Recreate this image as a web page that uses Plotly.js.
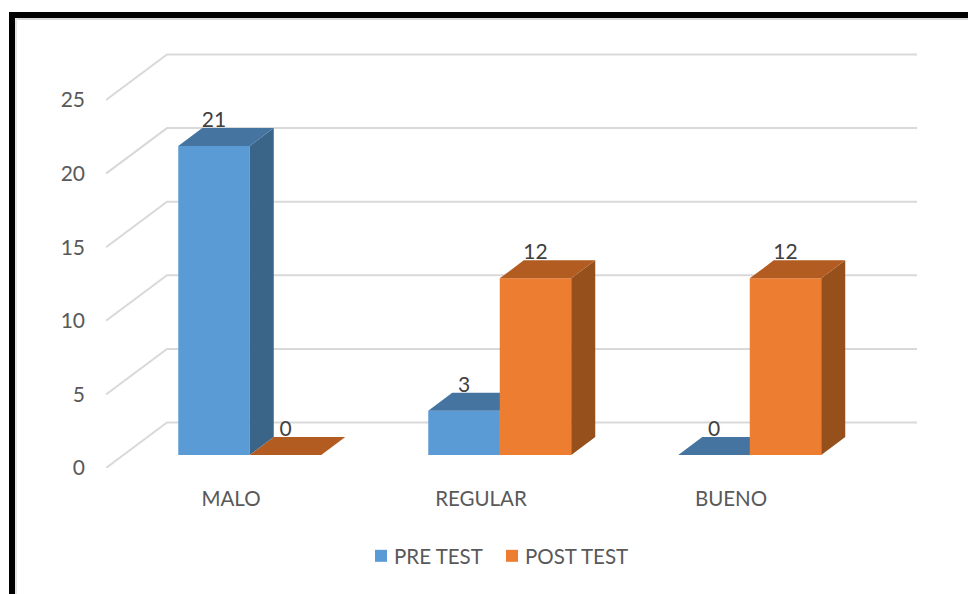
<!DOCTYPE html>
<html>
<head>
<meta charset="utf-8">
<script src="https://cdn.plot.ly/plotly-3.0.1.min.js"></script>
<style>html,body{margin:0;padding:0;background:#fff;overflow:hidden}#chart{width:968px;height:594px}</style>
</head>
<body>
<div id="chart"></div>
<script>
const categories = ["MALO", "REGULAR", "BUENO"];
const preTest = [21, 3, 0];
const postTest = [0, 12, 12];
const yTicks = [0, 5, 10, 15, 20, 25];
const seriesNames = ["PRE TEST", "POST TEST"];

const W = 968, H = 594;
const L = 106, R = 930, T = 40, B = 468;
const pxX = 250, pxY = 14.72;           // px per category, px per value
const dx = v => v / pxX, dy = v => v / pxY;
const wallX = dx(61), wallY = dy(45.5); // full depth of the floor
const wallEnd = dx(917 - L);            // right end of the back wall
const frontX = dx(19), frontY = dy(13); // bar front plane
const depthX = dx(24), depthY = dy(18); // bar depth
const barW = dx(71.5);
const xRange = [0, (R - L) / pxX], yRange = [0, (B - T) / pxY];
const px = x => (x - L) / (R - L), py = y => (B - y) / (B - T);

const FONT = "Lato, 'Open Sans', sans-serif", TXT = "#595959";
const SIZE = 20.5;

const gx = [], gy = [];
yTicks.forEach(v => {
  gx.push(0, wallX, wallEnd, null);
  gy.push(v, v + wallY, v + wallY, null);
});
const traces = [{
  x: gx, y: gy, type: "scatter", mode: "lines", cliponaxis: false,
  line: {color: "#D9D9D9", width: 2}, showlegend: false, hoverinfo: "skip"
}];

function series(vals, name, sign, front, top, side, xa, ya, leg) {
  const cx = categories.map((c, i) => i + 0.5 + frontX - 0.001 + sign * barW / 2);
  const sx = [], sy = [], tx = [], ty = [];
  vals.forEach((v, i) => {
    const l = cx[i] - barW / 2, r = cx[i] + barW / 2, b = frontY, t = frontY + v;
    sx.push(r, r + depthX, r + depthX, r, r, null);
    sy.push(b, b + depthY, t + depthY, t, b, null);
    tx.push(l, l + depthX, r + depthX, r, l, null);
    ty.push(t, t + depthY, t + depthY, t, t, null);
  });
  traces.push({
    x: cx, y: vals, base: vals.map(() => frontY), width: barW, type: "bar", name: name, legend: leg,
    showlegend: true, marker: {color: front, line: {width: 0}}, xaxis: xa, yaxis: ya, hoverinfo: "skip"
  });
  traces.push({x: sx, y: sy, type: "scatter", mode: "lines", fill: "toself", fillcolor: side,
    line: {width: 0, color: side}, showlegend: false, xaxis: xa, yaxis: ya, hoverinfo: "skip"});
  traces.push({x: tx, y: ty, type: "scatter", mode: "lines", fill: "toself", fillcolor: top,
    line: {width: 0, color: top}, showlegend: false, xaxis: xa, yaxis: ya, hoverinfo: "skip"});
  traces.push({
    x: cx, y: vals.map(v => v + frontY + dy(24.5)), text: vals.map(String), type: "scatter", mode: "text",
    textposition: "middle center", textfont: {family: FONT, size: 21, color: "#404040"},
    cliponaxis: false, showlegend: false, xaxis: xa, yaxis: ya, hoverinfo: "skip"
  });
}
series(preTest, seriesNames[0], -1, "#5B9BD5", "#44749F", "#3A6488", "x2", "y2", "legend");
series(postTest, seriesNames[1], 1, "#ED7D31", "#B35C21", "#95501C", "x3", "y3", "legend2");

const rect = (x0, y0, x1, y1, c) => ({type: "rect", xref: "paper", yref: "paper",
  x0: px(x0), x1: px(x1), y0: py(y0), y1: py(y1), fillcolor: c, line: {width: 0}, layer: "above"});

const hiddenX = {range: xRange, overlaying: "x", visible: false, fixedrange: true};
const hiddenY = {range: yRange, overlaying: "y", visible: false, fixedrange: true};
const legendAt = x => ({orientation: "h", xref: "paper", yref: "paper", x: px(x), y: py(536),
  xanchor: "left", yanchor: "top", font: {family: FONT, size: SIZE, color: TXT}, bgcolor: "rgba(0,0,0,0)"});

const layout = {
  width: W, height: H, autosize: false, showlegend: true,
  margin: {l: L, r: W - R, t: T, b: H - B, pad: 0},
  paper_bgcolor: "#fff", plot_bgcolor: "rgba(0,0,0,0)",
  barmode: "overlay",
  font: {family: FONT, size: SIZE, color: TXT},
  xaxis: {range: xRange, fixedrange: true, showgrid: false, zeroline: false, showline: false,
    tickmode: "array", tickvals: categories.map((c, i) => i + 0.5), ticktext: categories,
    ticks: "", ticklabelstandoff: 16, tickfont: {family: FONT, size: SIZE, color: TXT}},
  yaxis: {range: yRange, fixedrange: true, showgrid: false, zeroline: false, showline: false,
    tickmode: "array", tickvals: yTicks, ticktext: yTicks.map(String),
    ticks: "", ticklabelstandoff: 20, tickfont: {family: FONT, size: 21, color: TXT}},
  xaxis2: Object.assign({anchor: "y2"}, hiddenX),
  yaxis2: Object.assign({anchor: "x2"}, hiddenY),
  xaxis3: Object.assign({anchor: "y3"}, hiddenX),
  yaxis3: Object.assign({anchor: "x3"}, hiddenY),
  legend: legendAt(354),
  legend2: legendAt(485),
  shapes: [
    rect(15, 18, W, 20, "#D9D9D9"),
    rect(15, 18, 17, H, "#E4E4E4"),
    rect(9, 12, W, 18, "#000"),
    rect(9, 12, 15, H, "#000")
  ]
};
Plotly.newPlot("chart", traces, layout, {displayModeBar: false, staticPlot: true}).then(gd => {
  gd.querySelectorAll(".legendsymbols").forEach(s => s.setAttribute("transform", "translate(7,0)"));
});
</script>
</body>
</html>
